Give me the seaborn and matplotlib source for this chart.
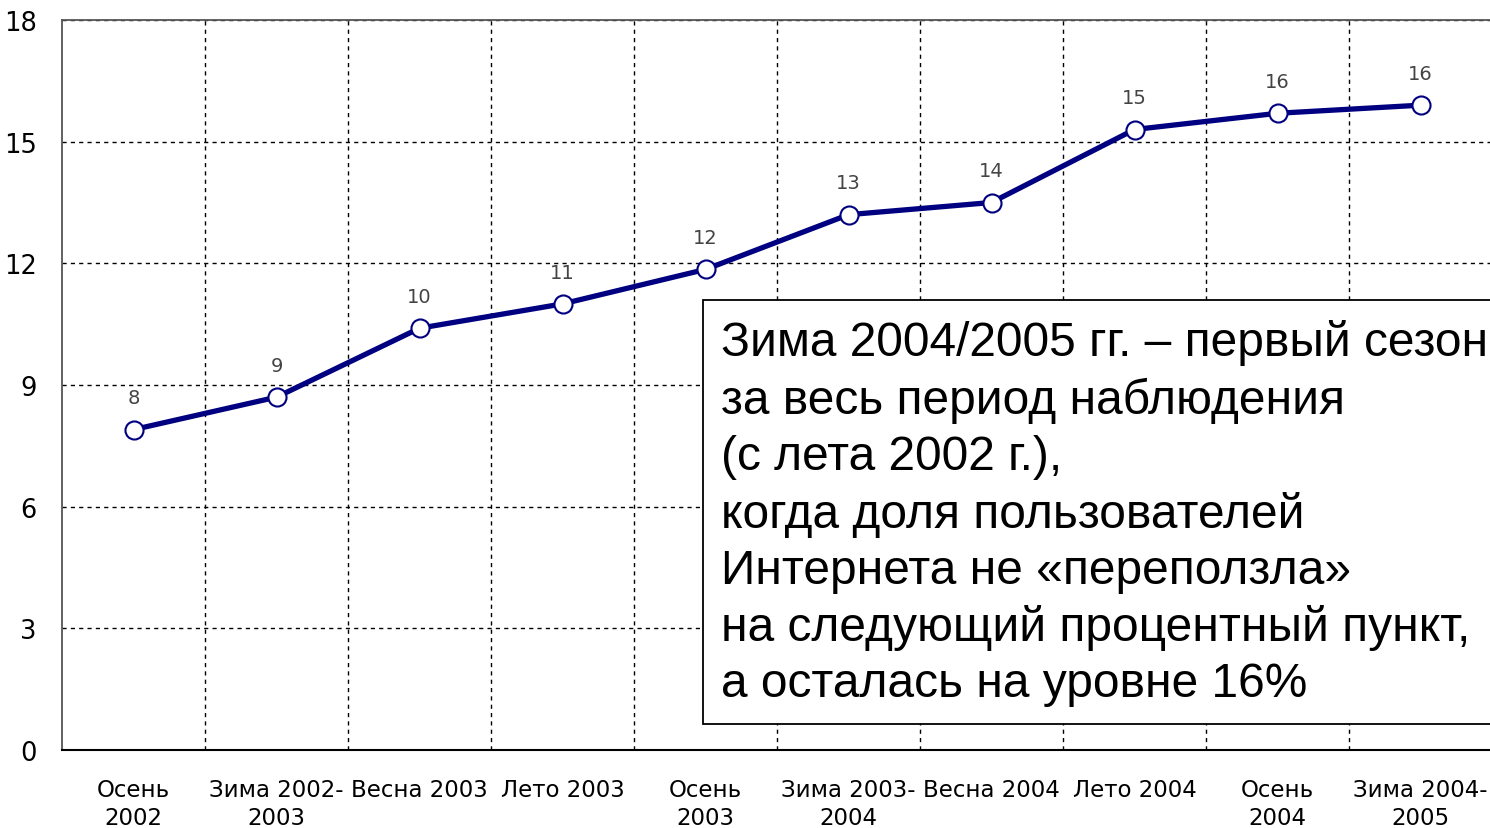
import matplotlib
matplotlib.use("Agg")
import matplotlib.pyplot as plt
import numpy as np
import pandas as pd
import seaborn as sns

seasons = [
    "Осень\n2002", "Зима 2002-\n2003", "Весна 2003", "Лето 2003", "Осень\n2003",
    "Зима 2003-\n2004", "Весна 2004", "Лето 2004", "Осень\n2004", "Зима 2004-\n2005",
]
share = [7.9, 8.7, 10.4, 11.0, 11.85, 13.2, 13.5, 15.3, 15.7, 15.9]
share_labels = ["8", "9", "10", "11", "12", "13", "14", "15", "16", "16"]
y_ticks = [0, 3, 6, 9, 12, 15, 18]

note = ("Зима 2004/2005 гг. – первый сезон\n"
        "за весь период наблюдения\n"
        "(с лета 2002 г.),\n"
        "когда доля пользователей\n"
        "Интернета не «переползла»\n"
        "на следующий процентный пункт,\n"
        "а осталась на уровне 16%")

df = pd.DataFrame({"pos": np.arange(len(seasons)), "share": share})

sns.set_theme(style="white")
plt.rcParams["font.family"] = ["DejaVu Sans"]
plt.rcParams["text.color"] = "black"
plt.rcParams["xtick.color"] = "black"
plt.rcParams["ytick.color"] = "black"

fig = plt.figure(figsize=(14.9, 8.29), dpi=100)
ax = fig.add_axes([62 / 1490, 1 - 751 / 829, 1430 / 1490, 730 / 829])

sns.lineplot(data=df, x="pos", y="share", ax=ax, color="#000080", linewidth=3.8,
             marker="o", markersize=13, markerfacecolor="white",
             markeredgecolor="#000080", markeredgewidth=1.5, zorder=3)

for x, y, lab in zip(df["pos"], df["share"], share_labels):
    ax.annotate(lab, (x, y), xytext=(0, 16), textcoords="offset points",
                ha="center", va="bottom", fontsize=14, color="#444444")

ax.set_xlim(-0.5, len(seasons) - 0.5)
ax.set_ylim(0, 18)
ax.set_yticks(y_ticks)
ax.set_yticklabels([str(t) for t in y_ticks], fontsize=18.5)
ax.set_xticks(df["pos"])
ax.set_xticklabels(seasons, fontsize=16.5, linespacing=1.3)
ax.set_xticks(np.arange(0.5, len(seasons) - 1, 1), minor=True)
ax.tick_params(axis="both", which="both", length=0)
ax.tick_params(axis="y", pad=18)
ax.tick_params(axis="x", pad=20)

ax.grid(False)
ax.yaxis.grid(True, which="major", linestyle=(0, (3, 3)), color="black", linewidth=1)
ax.xaxis.grid(True, which="minor", linestyle=(0, (3, 3)), color="black", linewidth=1)
ax.set_axisbelow(True)
ax.set_xlabel("")
ax.set_ylabel("")

for side in ["left", "top"]:
    ax.spines[side].set_color("#555555")
    ax.spines[side].set_linewidth(1.3)
ax.spines["bottom"].set_color("black")
ax.spines["bottom"].set_linewidth(1.5)
ax.spines["right"].set_visible(False)

box = plt.Rectangle((703 / 1490, 1 - 725 / 829), 800 / 1490, 424 / 829,
                    transform=fig.transFigure, facecolor="white",
                    edgecolor="black", linewidth=1.3, zorder=4)
fig.patches.append(box)
fig.text(721 / 1490, 1 - 320 / 829, note, fontsize=34.5,
         family="Liberation Sans", va="top", ha="left",
         linespacing=1.32, color="black", zorder=6)

fig.savefig("out.png", dpi=100)
